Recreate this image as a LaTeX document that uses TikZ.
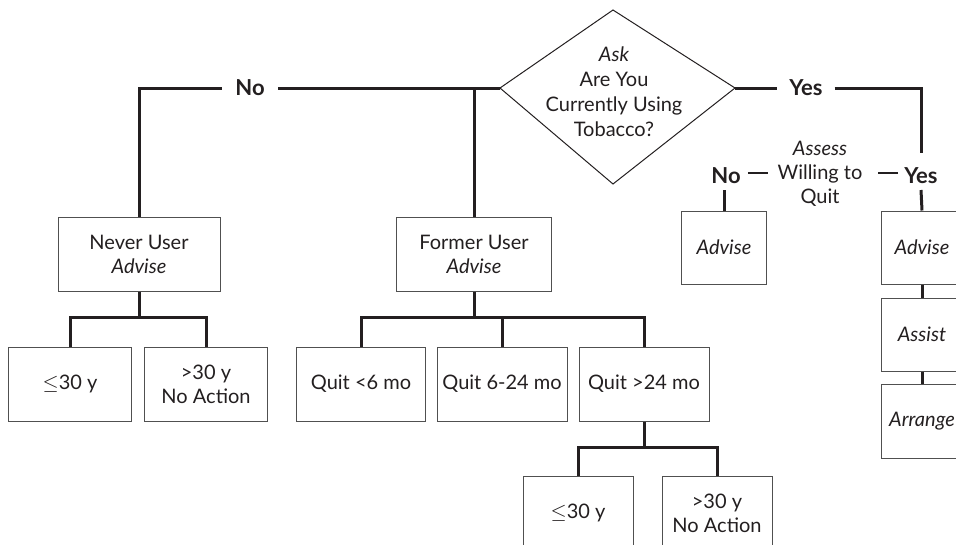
\documentclass[tikz,border=0pt]{standalone}
\usepackage{fontspec}
\setmainfont{Lato}
\definecolor{ink}{HTML}{231F20}
\definecolor{boxc}{HTML}{505050}
\begin{document}
\begin{tikzpicture}[x=1pt,y=-1pt,
  every node/.style={font=\fontsize{20}{24}\selectfont, text=ink},
  box/.style={draw=boxc, line width=1pt, align=center, inner sep=0pt, minimum height=74pt},
  conn/.style={draw=ink, line width=3pt},
  lab/.style={font=\fontsize{22}{24}\selectfont\bfseries, inner xsep=0pt, inner ysep=0pt, text height=15pt, text depth=0pt},
  emdash/.style={draw=ink, line width=1.4pt},
  diamondline/.style={draw=ink, line width=1pt, line join=miter}
]
\path[use as bounding box, clip] (0,0) rectangle (956,544);

% decision diamond
\coordinate (dt) at (613,10);
\coordinate (dl) at (500,88);
\coordinate (dr) at (735,88);
\coordinate (db) at (613,184);
\draw[diamondline] (dt) -- (dr) -- (db) -- (dl) -- cycle;
\node[align=center, inner sep=0pt, font=\fontsize{20}{25}\selectfont] (ask) at (614,92)
  {\textit{Ask}\\Are You\\Currently Using\\Tobacco?};

% labels
\node[lab, minimum width=56pt] (noT) at (250,88) {No};
\node[lab, minimum width=57pt] (yesT) at (806,88) {Yes};
\node[lab] (noA) at (726,176) {No};
\node[lab] (yesA) at (921,176) {Yes};
\node[align=center, inner sep=0pt] (assess) at (820,174) {\textit{Assess}\\Willing to\\Quit};

% boxes
\node[box, minimum width=162pt] (never) at (139,254) {Never User\\\textit{Advise}};
\node[box, minimum width=155pt] (former) at (474,254) {Former User\\\textit{Advise}};
\node[box, minimum width=123pt] (n1) at (70,384) {$\leq$30 y};
\node[box, minimum width=123pt] (n2) at (206,384) {>30 y\\No Action};
\node[box, minimum width=129pt] (q1) at (361,384) {Quit <6 mo};
\node[box, minimum width=130pt] (q2) at (502,384) {Quit 6-24 mo};
\node[box, minimum width=130pt] (q3) at (644,384) {Quit >24 mo};
\node[box, minimum width=110pt] (b1) at (578,513) {$\leq$30 y};
\node[box, minimum width=110pt] (b2) at (717,513) {>30 y\\No Action};
\node[box, minimum width=85pt, minimum height=73pt] (adv0) at (724,247.5) {\textit{Advise}};
\node[box, minimum width=82pt, minimum height=73pt] (adv1) at (922,247.5) {\textit{Advise}};
\node[box, minimum width=82pt, minimum height=73pt] (assist) at (922,334.5) {\textit{Assist}};
\node[box, minimum width=82pt, minimum height=74pt] (arrange) at (922,421) {\textit{Arrange}};

% helper coordinates
\coordinate (barA) at (0,317);
\coordinate (barB) at (0,447);
\coordinate (noAb) at ([yshift=-14pt]noA.center);
\coordinate (yesAt) at ([yshift=23pt]yesA.center);
\coordinate (yesAb) at ([yshift=-14pt]yesA.center);

% connectors: top level
\draw[conn] (dl) -- (noT.east);
\draw[conn] (noT.west) -| (never.north);
\draw[conn] (former.north) -- (former.north |- dl);
\draw[conn] (dr) -- (yesT.west);
\draw[conn] (yesT.east) -| (yesAt);
\draw[conn] (yesAb) -- (adv1.north);
\draw[conn] (adv0.north) -- (adv0.north |- noAb);
\draw[emdash] ([xshift=7pt,yshift=3pt]noA.east) -- ++(20,0);
\draw[emdash] ([xshift=-6pt,yshift=3pt]yesA.west) -- ++(-20,0);

% never user branch
\draw[conn] (never.south) -- (never.south |- barA);
\draw[conn] (n1.north) -- (n1.north |- barA) -- (n2.north |- barA) -- (n2.north);

% former user branch
\draw[conn] (former.south) -- (former.south |- barA);
\draw[conn] (q1.north) -- (q1.north |- barA) -- (q3.north |- barA) -- (q3.north);
\draw[conn] (q2.north) -- (q2.north |- barA);

% quit > 24 mo branch
\draw[conn] (q3.south) -- (q3.south |- barB);
\draw[conn] (b1.north) -- (b1.north |- barB) -- (b2.north |- barB) -- (b2.north);

% willing to quit chain
\draw[conn] (adv1.south) -- (assist.north);
\draw[conn] (assist.south) -- (arrange.north);
\end{tikzpicture}
\end{document}
